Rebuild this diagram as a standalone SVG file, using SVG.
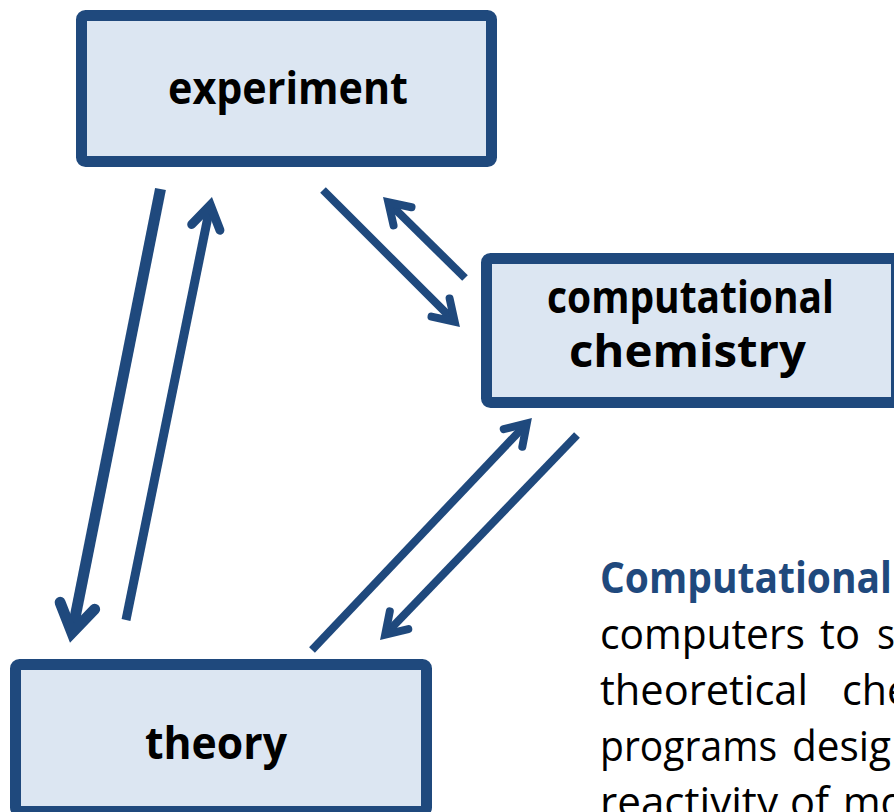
<svg xmlns="http://www.w3.org/2000/svg" width="894" height="812" viewBox="0 0 894 812">
<style>
.box{fill:#DCE6F2;stroke:#1F497D;stroke-width:11}
.lbl{font-family:"Open Sans","Noto Sans",sans-serif;font-weight:bold;font-size:44px;fill:#000}
.par{font-family:"Open Sans","Noto Sans",sans-serif;font-size:42px;fill:#000}
.head{font-family:"Open Sans","Noto Sans",sans-serif;font-weight:bold;font-size:43px;fill:#1F497D}
.arr{fill:none;stroke:#1F497D;stroke-linecap:butt;marker-end:url(#ah)}
</style>
<defs>
<marker id="ah" markerUnits="strokeWidth" viewBox="-4 -3 6 6" markerWidth="6" markerHeight="6" refX="0" refY="0" orient="auto" overflow="visible">
<path d="M-2.5,-1.6 L0,0 L-2.5,1.6" fill="none" stroke="#1F497D" stroke-width="1" stroke-linecap="round" stroke-linejoin="miter"/>
</marker>
</defs>
<rect width="894" height="812" fill="#fff"/>
<g id="connectors">
<path class="arr" d="M160.5,189 L72,632.8" stroke-width="11"/>
<path class="arr" d="M126,620 L210.3,205.3" stroke-width="9"/>
<path class="arr" d="M323,190 L454.7,321.7" stroke-width="8"/>
<path class="arr" d="M465,278 L388.3,202.3" stroke-width="8"/>
<path class="arr" d="M312,650 L526.8,423.4" stroke-width="8"/>
<path class="arr" d="M577,435 L385.2,634.6" stroke-width="8"/>
</g>
<g id="experiment">
<rect class="box" x="81.5" y="15.5" width="410" height="146" rx="4"/>
<text class="lbl" x="168" y="104" textLength="240" lengthAdjust="spacingAndGlyphs">experiment</text>
</g>
<g id="computational-chemistry">
<rect class="box" x="486.5" y="258.5" width="410" height="144" rx="4"/>
<text class="lbl" x="547" y="313" textLength="287" lengthAdjust="spacingAndGlyphs">computational</text>
<text class="lbl" x="569" y="367" textLength="237" lengthAdjust="spacingAndGlyphs">chemistry</text>
</g>
<g id="theory">
<rect class="box" x="15.5" y="664.5" width="411" height="147" rx="4"/>
<text class="lbl" x="145" y="759" textLength="142" lengthAdjust="spacingAndGlyphs">theory</text>
</g>
<g id="paragraph">
<text class="head" x="600" y="593" textLength="292" lengthAdjust="spacingAndGlyphs">Computational</text>
<text class="par" x="600" y="649" textLength="205" lengthAdjust="spacingAndGlyphs">computers</text>
<text class="par" x="820" y="649" textLength="40" lengthAdjust="spacingAndGlyphs">to</text>
<text class="par" x="877" y="649" textLength="18" lengthAdjust="spacingAndGlyphs">s</text>
<text class="par" x="600" y="705" textLength="208" lengthAdjust="spacingAndGlyphs">theoretical</text>
<text class="par" x="842" y="705" textLength="68" lengthAdjust="spacingAndGlyphs">che</text>
<text class="par" x="600" y="761" textLength="177" lengthAdjust="spacingAndGlyphs">programs</text>
<text class="par" x="792" y="761" textLength="99" lengthAdjust="spacingAndGlyphs">desig</text>
<text class="par" x="600" y="817" textLength="178" lengthAdjust="spacingAndGlyphs">reactivity</text>
<text class="par" x="790" y="817" textLength="39" lengthAdjust="spacingAndGlyphs">of</text>
<text class="par" x="843" y="817" textLength="62" lengthAdjust="spacingAndGlyphs">mo</text>
</g>
</svg>
